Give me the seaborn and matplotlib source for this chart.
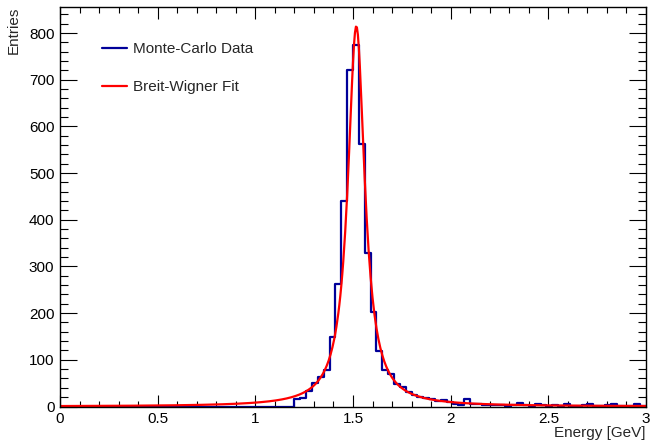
import numpy as np
import pandas as pd
import matplotlib
matplotlib.use("Agg")
import matplotlib.pyplot as plt
from matplotlib.lines import Line2D
from matplotlib.ticker import MultipleLocator
import seaborn as sns

# histogram: 100 bins from 0 to 3 GeV, counts
n_bins = 100
energy_range = (0.0, 3.0)
counts = [0] * 40 + [
    16, 19, 34, 50, 63, 78, 149, 263, 440, 720,
    775, 562, 328, 202, 119, 79, 70, 48, 41, 31,
    25, 20, 18, 15, 12, 13, 10, 6, 4, 15,
    5, 6, 4, 3, 4, 3, 2, 3, 7, 3,
    2, 6, 3, 2, 3, 2, 6, 2, 1, 3,
    5, 2, 1, 3, 5, 2, 1, 2, 5, 1,
]

# Breit-Wigner fit parameters
fit_peak = 815.0
fit_mass = 1.517
fit_width = 0.105

bin_edges = np.linspace(energy_range[0], energy_range[1], n_bins + 1)
hist_df = pd.DataFrame({
    'energy': 0.5 * (bin_edges[:-1] + bin_edges[1:]),
    'entries': counts,
})
x_fit = np.linspace(0.0, 3.0, 601)
half = fit_width / 2
y_fit = fit_peak * half**2 / ((x_fit - fit_mass) ** 2 + half**2)

sns.set_theme(style="ticks")
plt.rcParams['font.family'] = ['Liberation Sans', 'DejaVu Sans']

fig = plt.figure(figsize=(6.52, 4.43), dpi=100)
ax = fig.add_axes([60 / 652, 36.5 / 443, 586 / 652, 400 / 443])

blue = '#000099'
red = '#ff0000'

sns.histplot(data=hist_df, x='energy', weights='entries', bins=n_bins,
             binrange=energy_range, element='step', fill=False,
             color=blue, linewidth=1.6, ax=ax)
sns.lineplot(x=x_fit, y=y_fit, color=red, linewidth=1.6, ax=ax)

ax.set_xlim(0, 3)
ax.set_ylim(0, 857)
ax.set_xlabel('')
ax.set_ylabel('')

ax.xaxis.set_major_locator(MultipleLocator(0.5))
ax.xaxis.set_minor_locator(MultipleLocator(0.1))
ax.yaxis.set_major_locator(MultipleLocator(100))
ax.yaxis.set_minor_locator(MultipleLocator(20))
ax.set_xticks([0, 0.5, 1, 1.5, 2, 2.5, 3])
ax.set_xticklabels(['0', '0.5', '1', '1.5', '2', '2.5', '3'])

ax.tick_params(axis='both', which='both', direction='in', top=True, right=True,
               colors='black', labelsize=11, width=0.8)
ax.tick_params(axis='x', which='major', length=8.5, pad=4)
ax.tick_params(axis='x', which='minor', length=4.3)
ax.tick_params(axis='y', which='major', length=12.5, pad=4)
ax.tick_params(axis='y', which='minor', length=6)
for s in ax.spines.values():
    s.set_visible(True)
    s.set_color('black')
    s.set_linewidth(1.0)

fig.text(14 / 652, 1 - 7 / 443, 'Entries', rotation=90, ha='center', va='top', fontsize=11)
fig.text(646 / 652, 1 - 433 / 443, 'Energy [GeV]', ha='right', va='center', fontsize=11)

handles = [Line2D([], [], color=blue, lw=1.6), Line2D([], [], color=red, lw=1.6)]
ax.legend(handles, ['Monte-Carlo Data', 'Breit-Wigner Fit'], loc='upper left',
          bbox_to_anchor=(102 / 652, 1 - 42 / 443), bbox_transform=fig.transFigure,
          frameon=False, fontsize=11, labelspacing=1.6, handlelength=1.65,
          handletextpad=0.35, borderpad=0, borderaxespad=0)

fig.savefig('out.png', dpi=100)
